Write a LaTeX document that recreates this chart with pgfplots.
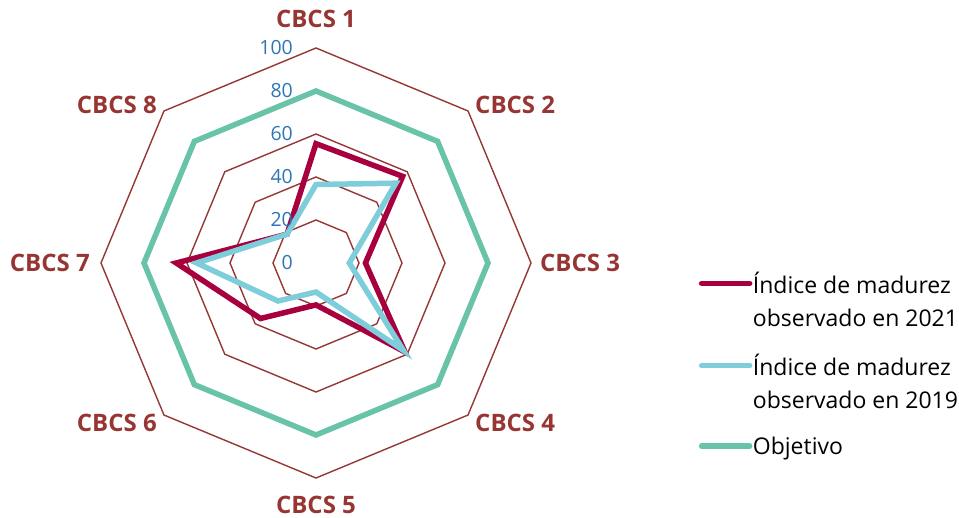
\documentclass[border=0pt]{standalone}
\usepackage{pgfplots}
\pgfplotsset{compat=1.18}
\usepgfplotslibrary{polar}
\usepackage{fontspec}
\setmainfont{Open Sans}

\definecolor{c2021}{HTML}{A8003F}
\definecolor{c2019}{HTML}{7ECDDB}
\definecolor{cobj}{HTML}{69C3A8}
\definecolor{ring}{HTML}{953735}
\definecolor{catlab}{HTML}{973533}
\definecolor{ticklab}{HTML}{2E75B6}

\begin{document}
\begin{tikzpicture}
\begin{polaraxis}[
  width=430bp, height=430bp, scale only axis,
  ymin=0, ymax=100,
  hide axis,
  clip=false,
  legend cell align=left,
  legend style={at={(1.39,0.481)}, anchor=north west, draw=none, fill=none,
    font=\fontsize{23bp}{33bp}\selectfont,
    cells={align=left},
    nodes={inner sep=0.5bp},
    row sep=25.5bp, inner sep=0pt},
  legend image code/.code={\draw[#1, line cap=round] (0bp,0bp) -- (48bp,0bp);},
]
% --- anillos de la rejilla ---
\pgfplotsinvokeforeach{20,40,60,80,100}{
  \addplot[ring, line width=1.4bp, line join=miter, forget plot] coordinates {
    (90,#1) (45,#1) (0,#1) (315,#1) (270,#1) (225,#1) (180,#1) (135,#1)
  } -- cycle;
}

% --- 2021 ---
\addplot[c2021, line width=5.5bp, line join=miter,
  legend image post style={yshift=16.5bp}] coordinates {
  (90,55.5) (45,57) (0,23) (315,58.5) (270,19.5) (225,36.5) (180,65) (135,19)
} -- cycle;
\addlegendentry{Índice de madurez\\observado en 2021}

% --- 2019 ---
\addplot[c2019, line width=5.5bp, line join=miter,
  legend image post style={yshift=16.5bp}] coordinates {
  (90,36.5) (45,52.5) (0,15.5) (315,57.5) (270,13.5) (225,25) (180,55.5) (135,19)
} -- cycle;
\addlegendentry{Índice de madurez\\observado en 2019}

% --- Objetivo ---
\addplot[cobj, line width=5.5bp, line join=miter] coordinates {
  (90,80) (45,80) (0,80) (315,80) (270,80) (225,80) (180,80) (135,80)
} -- cycle;
\addlegendentry{Objetivo}

% --- etiquetas ---
\coordinate (O) at (axis cs:0,0);
\begin{scope}[every node/.style={font=\fontsize{24bp}{26bp}\selectfont\bfseries, text=catlab, inner sep=0pt}]
  \node[anchor=base, yshift=20bp] at (axis cs:90,100) {CBCS 1};
  \node[anchor=base west, xshift=7bp, yshift=-3bp] at (axis cs:45,100) {CBCS 2};
  \node[anchor=base west, xshift=9bp, yshift=-8bp] at (axis cs:0,100) {CBCS 3};
  \node[anchor=base west, xshift=7bp, yshift=-16bp] at (axis cs:315,100) {CBCS 4};
  \node[anchor=base, yshift=-35bp] at (axis cs:270,100) {CBCS 5};
  \node[anchor=base east, xshift=-7bp, yshift=-16bp] at (axis cs:225,100) {CBCS 6};
  \node[anchor=base east, xshift=-11bp, yshift=-8bp] at (axis cs:180,100) {CBCS 7};
  \node[anchor=base east, xshift=-7bp, yshift=-3bp] at (axis cs:135,100) {CBCS 8};
\end{scope}
\begin{scope}[every node/.style={font=\fontsize{19.5bp}{21bp}\selectfont, text=ticklab, anchor=east, xshift=-23bp, inner sep=0pt}]
  \node at (axis cs:90,0) {0};
  \node at (axis cs:90,20) {20};
  \node at (axis cs:90,40) {40};
  \node at (axis cs:90,60) {60};
  \node at (axis cs:90,80) {80};
  \node at (axis cs:90,100) {100};
\end{scope}
\end{polaraxis}
\path (O) ++(-316bp,263bp) rectangle ++(959bp,-518bp);
\end{tikzpicture}
\end{document}
